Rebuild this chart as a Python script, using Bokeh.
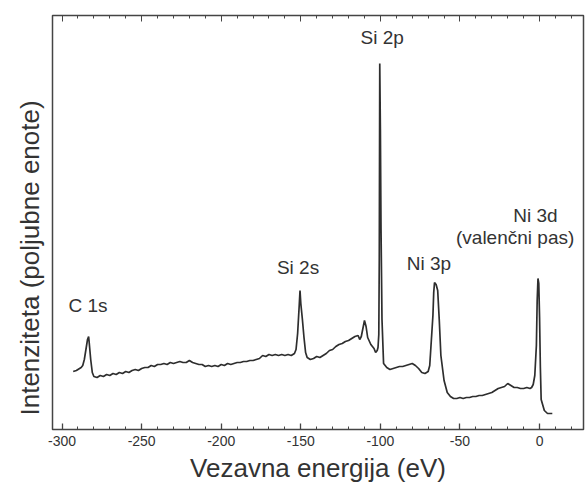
from bokeh.plotting import figure
from bokeh.models import (LinearAxis, Range1d, SingleIntervalTicker, Title, ColumnDataSource,
                          CustomJSTickFormatter, CustomLabelingPolicy)
from bokeh.core.properties import value
from bokeh.embed import file_html
from bokeh.resources import INLINE

# Binding energy (eV) and intensity (arbitrary units)
energy = [-293, -291, -289, -288, -287, -286, -285, -284, -283.3, -283, -282, -281, -280, -278, -276,
          -274, -272, -270, -268, -266, -264, -262, -260, -258, -256, -254, -252, -250, -248, -246,
          -244, -242, -240, -238, -236, -234, -232, -230, -228, -226, -224, -222, -220, -218, -216,
          -214, -212, -210, -208, -206, -204, -202, -200, -198, -196, -194, -192, -190, -188, -186,
          -184, -182, -180, -178, -176, -174, -172, -170, -168, -166, -164, -162, -160, -158, -156,
          -154, -153, -152, -151, -150.5, -150, -149, -148, -147, -146, -144, -142, -140, -138, -136,
          -134, -132, -130, -128, -126, -124, -122, -120, -118, -116, -114, -113, -112, -111, -110,
          -109, -108, -106, -104, -103, -102, -101.5, -101, -100.7, -100.4, -100, -99.6, -99, -98,
          -96, -94, -92, -90, -88, -86, -84, -82, -80, -78, -76, -74, -72, -70, -69, -68, -67, -66.5,
          -66, -65, -64, -63, -62, -60, -58, -56, -54, -52, -50, -48, -46, -44, -42, -40, -38, -36,
          -34, -32, -30, -28, -26, -24, -22, -20, -18, -16, -14, -12, -10, -8, -6, -5, -4, -3, -2,
          -1.5, -1, -0.5, 0, 0.5, 1, 3, 5, 8]
intensity = [58, 59, 61, 62, 64, 70, 80, 90, 93, 88, 70, 57, 53, 52, 54, 53,
             55, 54, 56, 55, 57, 56, 58, 57, 59, 60, 59, 61, 62, 62, 64,
             63, 65, 65, 66, 65, 67, 66, 67, 68, 67, 67, 69, 67, 66, 65,
             65, 63, 64, 63, 64, 63, 65, 64, 66, 65, 66, 67, 67, 68, 68,
             69, 69, 70, 71, 74, 73, 75, 74, 75, 74, 75, 74, 75, 74, 76,
             80, 96, 124, 139, 126, 110, 92, 77, 72, 70, 71, 73, 72, 74, 76, 79,
             80, 83, 85, 86, 88, 89, 91, 93, 94, 90, 93, 101, 109, 103, 92,
             85, 81, 77, 79, 82, 95, 170, 366, 300, 200, 110, 66, 62, 60,
             61, 62, 63, 63, 64, 65, 66, 64, 61, 57, 56, 58, 64, 89, 114, 137, 147, 145,
             139, 109, 74, 49, 37, 33, 31, 31, 32, 31, 32, 32, 33, 33, 34, 34, 35, 36,
             37, 39, 41, 42, 43, 46, 44, 42, 42, 41, 41, 42, 41, 42, 45, 54, 84, 129, 151,
             146, 112, 62, 30, 19, 16, 16, 15, 16]

# Peak annotations
peak_labels = ["C 1s", "Si 2s", "Si 2p", "Ni 3p", "Ni 3d", "(valenčni pas)"]
label_x = [-296, -165, -112.5, -83.5, -16.5, -52.5]
label_y = [124, 162, 392, 166, 214, 192]

x_ticks_major = 50
x_ticks_minor = 10

FONT = "Liberation Sans"
INK = "#333333"

p = figure(width=585, height=488, output_backend="svg", toolbar_location=None,
           x_range=Range1d(-306, 27.6), y_range=Range1d(0, 414),
           min_border_left=52, min_border_right=2, min_border_top=15, min_border_bottom=59)
p.background_fill_color = "white"
p.border_fill_color = "white"
p.outline_line_color = "#444444"
p.outline_line_width = 1.5
p.grid.visible = False

src = ColumnDataSource(dict(x=energy, y=intensity))
p.line("x", "y", source=src, line_color="#2e2e2e", line_width=1.7)

lsrc = ColumnDataSource(dict(x=label_x, y=label_y, t=peak_labels))
p.text("x", "y", text="t", source=lsrc, text_font=value(FONT), text_font_size="19px",
       text_color=INK, text_align="left", text_baseline="middle")

ticker = SingleIntervalTicker(interval=x_ticks_major, num_minor_ticks=x_ticks_major // x_ticks_minor)

xa = p.xaxis[0]
xa.ticker = ticker
xa.formatter = CustomJSTickFormatter(code="return tick.toFixed(0);")
xa.axis_line_color = None
xa.major_tick_in = 6
xa.major_tick_out = 0
xa.minor_tick_in = 3
xa.minor_tick_out = 0
xa.major_tick_line_color = "#444444"
xa.minor_tick_line_color = "#444444"
xa.major_tick_line_width = 1.3
xa.major_label_standoff = 6
xa.major_label_text_font = FONT
xa.major_label_text_font_size = "14px"
xa.major_label_text_color = INK
xa.axis_label = "Vezavna energija (eV)"
xa.axis_label_text_font = FONT
xa.axis_label_text_font_size = "26px"
xa.axis_label_text_font_style = "normal"
xa.axis_label_text_color = INK
xa.axis_label_standoff = 4

top = LinearAxis(ticker=ticker, axis_line_color=None,
                 major_tick_in=6, major_tick_out=0, minor_tick_in=3, minor_tick_out=0,
                 major_tick_line_color="#444444", minor_tick_line_color="#444444",
                 major_label_policy=CustomLabelingPolicy(code="return new Set();"),
                 major_label_standoff=0)
p.add_layout(top, "above")

p.yaxis.visible = False
ytitle = Title(text="Intenziteta (poljubne enote)", align="left", offset=14,
               text_font=FONT, text_font_size="26px", text_font_style="normal",
               text_color=INK, standoff=16)
p.add_layout(ytitle, "left")

open("out.html", "w").write(file_html(p, INLINE))
